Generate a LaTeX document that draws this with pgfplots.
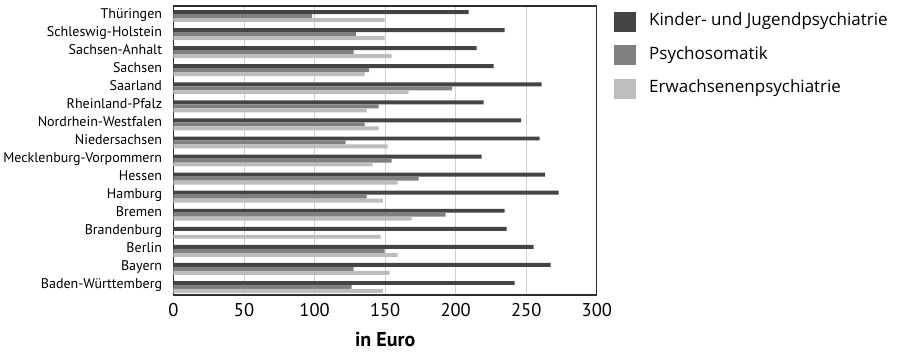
\documentclass[border=0pt]{standalone}
\usepackage{fontspec}
\setmainfont{PT Sans}
\newfontfamily\legendfont{Open Sans}
\usepackage{pgfplots}
\pgfplotsset{compat=1.18}

\definecolor{kjp}{HTML}{444444}
\definecolor{pso}{HTML}{808080}
\definecolor{erw}{HTML}{BDBDC0}
\definecolor{gridgray}{HTML}{D0D0D0}
\definecolor{frame}{HTML}{2E2E2E}

\begin{document}
\begin{tikzpicture}
\useasboundingbox (0,0) rectangle (897pt,351pt);
\begin{axis}[
  at={(173.5pt,56pt)}, anchor=south west,
  scale only axis, width=423.3pt, height=289pt,
  xbar, bar width=0.22,
  xmin=0, xmax=300, ymin=-0.5, ymax=15.5,
  xtick={0,50,...,300},
  xtick style={draw=none},
  xmajorgrids, grid style={gridgray, line width=0.9pt},
  axis line style={frame, line width=1.1pt},
  /pgf/number format/assume math mode=true,
  xticklabel style={font=\fontsize{18.5}{18.5}\selectfont, inner sep=0pt, yshift=-8pt},
  ytick={0,...,15},
  yticklabels={Baden-Württemberg,Bayern,Berlin,Brandenburg,Bremen,Hamburg,Hessen,Mecklenburg-Vorpommern,Niedersachsen,Nordrhein-Westfalen,Rheinland-Pfalz,Saarland,Sachsen,Sachsen-Anhalt,Schleswig-Holstein,Thüringen},
  ytick style={draw=none},
  yticklabel style={font=\fontsize{14}{14}\selectfont, inner sep=0pt, anchor=base east, xshift=-7pt, yshift=-3pt},
  extra y ticks={-0.5,0.5,...,15.5},
  extra y tick labels={},
  extra y tick style={tick align=outside, major tick length=4.5pt, tick style={draw=black, line width=0.8pt}, grid=none},
  xlabel={in Euro},
  xlabel style={font=\bfseries\fontsize{20}{20}\selectfont, inner sep=0pt, yshift=-15pt},
  legend style={draw=none, fill=none, at={(1.0406,0.98)}, anchor=north west, inner sep=0pt,
    row sep=13.5pt, column sep=13pt,
    nodes={inner sep=0pt, font=\legendfont\fontsize{17}{17}\selectfont, text height=14pt, text depth=6pt}},
  legend cell align=left,
  legend image code/.code={\fill[#1] (0pt,-10pt) rectangle (22pt,10pt);},
]
% Kinder- und Jugendpsychiatrie
\addplot[draw=none, fill=kjp, bar shift=0.165] coordinates {
  (241.8,0) (267.3,1) (255.3,2) (236.1,3) (234.7,4) (273.0,5) (263.3,6) (218.4,7)
  (259.5,8) (246.3,9) (219.8,10) (260.9,11) (226.9,12) (214.9,13) (234.7,14) (209.2,15)};
% Psychosomatik (no value for Brandenburg)
\addplot[draw=none, fill=pso, bar shift=-0.055] coordinates {
  (126.3,0) (127.7,1) (149.7,2) (192.9,4) (136.9,5) (173.8,6) (154.6,7)
  (122.0,8) (135.5,9) (145.4,10) (197.4,11) (138.6,12) (127.7,13) (129.3,14) (98.2,15)};
% Erwachsenenpsychiatrie
\addplot[draw=none, fill=erw, bar shift=-0.275] coordinates {
  (148.3,0) (153.2,1) (158.9,2) (146.8,3) (168.8,4) (148.3,5) (158.9,6) (141.2,7)
  (151.8,8) (145.4,9) (136.9,10) (166.7,11) (135.5,12) (154.6,13) (149.7,14) (149.7,15)};
\legend{Kinder- und Jugendpsychiatrie, Psychosomatik, Erwachsenenpsychiatrie}
\end{axis}
\end{tikzpicture}
\end{document}
